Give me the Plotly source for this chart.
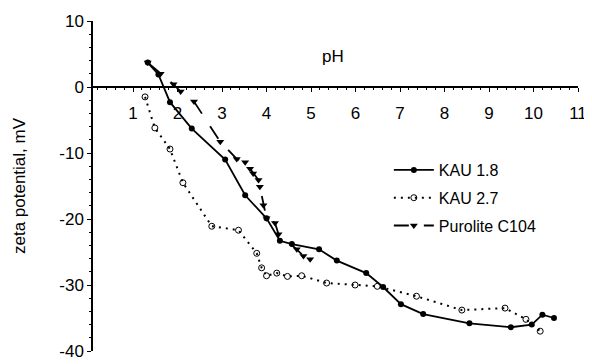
import plotly.graph_objects as go

kau18_ph = [1.33, 1.57, 1.83, 2.32, 3.07, 3.52, 4.0, 4.3, 4.57, 5.18, 5.58, 6.24, 6.62, 7.02, 7.52, 8.56, 9.49, 9.96, 10.2, 10.46]
kau18_zeta = [3.7, 1.9, -2.3, -6.3, -11.0, -16.4, -19.9, -23.3, -23.8, -24.6, -26.3, -28.2, -30.3, -32.9, -34.4, -35.8, -36.4, -36.0, -34.5, -35.0]

kau27_ph = [1.27, 1.49, 1.83, 2.12, 2.77, 3.37, 3.78, 3.89, 4.0, 4.23, 4.47, 4.79, 5.35, 5.99, 6.49, 7.37, 8.39, 9.36, 9.83, 10.15]
kau27_zeta = [-1.5, -6.2, -9.4, -14.5, -21.1, -21.7, -25.2, -27.4, -28.6, -28.2, -28.7, -28.6, -29.7, -30.0, -30.2, -31.7, -33.8, -33.5, -35.2, -37.0]

pur_ph = [1.33, 1.62, 1.91, 2.07, 2.37, 2.96, 3.33, 3.52, 3.63, 3.7, 3.82, 3.85, 3.93, 4.0, 4.19, 4.27, 4.68, 4.83, 4.98]
pur_zeta = [3.7, 2.0, 0.4, -0.7, -2.2, -8.3, -10.9, -11.4, -12.4, -13.1, -14.1, -15.1, -17.9, -19.9, -20.6, -22.3, -24.6, -25.6, -26.1]

x_ticks = list(range(1, 12))
y_ticks = [10, 0, -10, -20, -30, -40]

FONT = "Liberation Sans, Arial, sans-serif"

fig = go.Figure()
fig.add_trace(go.Scatter(
    x=kau18_ph, y=kau18_zeta, name="KAU 1.8", mode="lines+markers",
    line=dict(color="black", width=1.8),
    marker=dict(symbol="circle", size=6, color="black"),
    legendgroup="a"))
fig.add_trace(go.Scatter(
    x=kau27_ph, y=kau27_zeta, name="KAU 2.7", mode="lines+markers",
    line=dict(color="black", width=2, dash="2px,5px"),
    marker=dict(symbol="circle-open", size=6, color="black", line=dict(width=1)),
    legendgroup="b"))
fig.add_trace(go.Scatter(
    x=pur_ph, y=pur_zeta, name="Purolite C104", mode="lines+markers",
    line=dict(color="black", width=1.8, dash="longdash"),
    marker=dict(symbol="triangle-down", size=7, color="black"),
    legendgroup="c"))

fig.update_layout(
    width=584, height=356,
    margin=dict(l=85, r=14, t=13, b=13),
    paper_bgcolor="white", plot_bgcolor="white",
    font=dict(family=FONT, size=17, color="black"),
    showlegend=True,
    legend=dict(x=0.61, y=0.6, xanchor="left", yanchor="top",
                font=dict(size=16), bgcolor="rgba(0,0,0,0)",
                tracegroupgap=4, itemwidth=40),
    xaxis=dict(range=[0.1, 11], anchor="free", position=0.8,
               tickvals=x_ticks, ticktext=[str(v) for v in x_ticks],
               showline=True, linecolor="black", linewidth=1.5,
               ticks="outside", ticklen=4, tickcolor="black", tickwidth=1,
               minor=dict(dtick=0.2, ticks="outside", ticklen=2, tickcolor="black"),
               ticklabelstandoff=7, automargin=False, ticklabeloverflow="allow",
               showgrid=False, zeroline=False,
               tickfont=dict(size=17)),
    yaxis=dict(range=[-40, 10], tickvals=y_ticks,
               ticktext=[str(v) for v in y_ticks],
               showline=True, linecolor="black", linewidth=1.5,
               ticks="outside", ticklen=4, tickcolor="black",
               minor=dict(dtick=2, ticks="outside", ticklen=2, tickcolor="black"),
               showgrid=False, zeroline=False, automargin=False,
               ticklabeloverflow="allow",
               title=dict(text="zeta potential, mV", font=dict(size=17), standoff=29),
               tickfont=dict(size=17)),
    annotations=[dict(text="pH", x=5.5, y=4.6, xref="x", yref="y",
                      showarrow=False, font=dict(size=17))],
)

fig.write_html("out.html")
